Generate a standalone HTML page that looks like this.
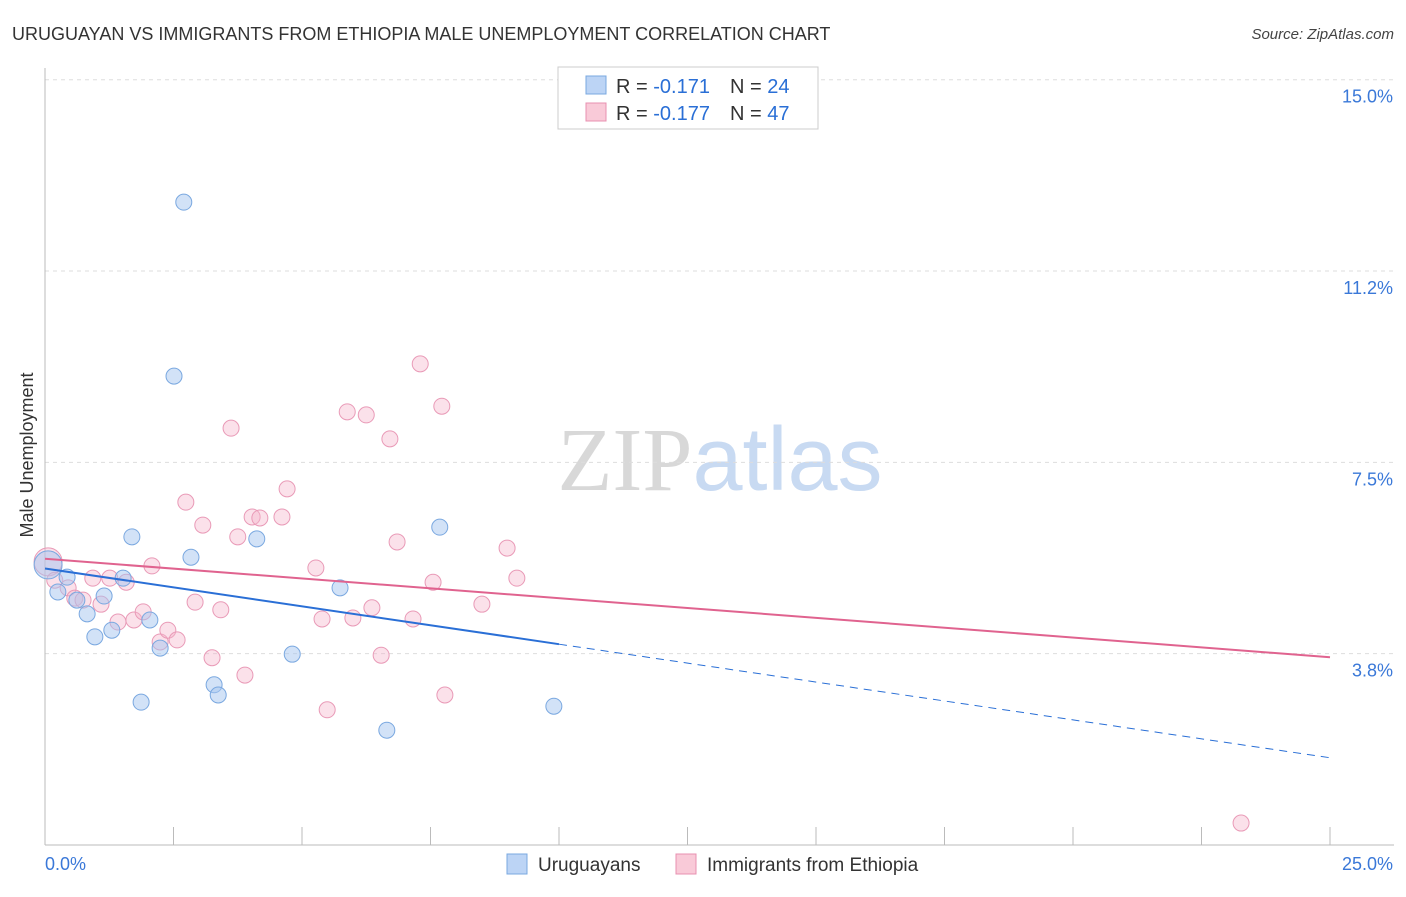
<!DOCTYPE html>
<html><head><meta charset="utf-8"><style>
body{margin:0;background:#fff;font-family:"Liberation Sans",sans-serif}
svg text{font-family:"Liberation Sans",sans-serif}
</style></head><body>
<svg id="chart" width="1406" height="892" xmlns="http://www.w3.org/2000/svg">
<text x="12" y="40" font-size="18" fill="#333">URUGUAYAN VS IMMIGRANTS FROM ETHIOPIA MALE UNEMPLOYMENT CORRELATION CHART</text>
<text x="1394" y="39" font-size="15" fill="#444" text-anchor="end" font-style="italic">Source: ZipAtlas.com</text>
<text x="720" y="490" font-size="90" text-anchor="middle"><tspan fill="#d8d8d8" font-family="Liberation Serif">ZIP</tspan><tspan fill="#c8daf2">atlas</tspan></text>
<g id="grid"></g>
<g id="axes"></g>
<g id="marks"></g>
<text transform="translate(33,455) rotate(-90)" font-size="18" fill="#333" text-anchor="middle">Male Unemployment</text>
<g>
<rect x="558" y="67" width="260" height="62" fill="#fff" stroke="#ccc"/>
<rect x="586" y="76" width="20" height="18" fill="#bcd4f5" stroke="#7aa8e0"/>
<text x="616" y="93" font-size="20" fill="#333">R = <tspan fill="#2a6fd6">-0.171</tspan></text>
<text x="730" y="93" font-size="20" fill="#333">N = <tspan fill="#2a6fd6">24</tspan></text>
<rect x="586" y="103" width="20" height="18" fill="#f9cad8" stroke="#e890b0"/>
<text x="616" y="120" font-size="20" fill="#333">R = <tspan fill="#2a6fd6">-0.177</tspan></text>
<text x="730" y="120" font-size="20" fill="#333">N = <tspan fill="#2a6fd6">47</tspan></text>
</g>
<g>
<rect x="507" y="854" width="20" height="20" fill="#bcd4f5" stroke="#7aa8e0"/>
<text x="538" y="871" font-size="19" fill="#333">Uruguayans</text>
<rect x="676" y="854" width="20" height="20" fill="#f9cad8" stroke="#e890b0"/>
<text x="707" y="871" font-size="19" fill="#333">Immigrants from Ethiopia</text>
</g>
</svg>
<script>
const blueX=[0.06,0.25,0.43,0.62,0.82,0.97,1.15,1.30,1.52,1.69,1.87,2.04,2.24,2.51,2.70,2.84,3.29,3.37,4.12,4.81,5.74,6.65,7.68,9.90];
const blueY=[5.49,4.96,5.25,4.80,4.53,4.08,4.88,4.21,5.23,6.04,2.80,4.41,3.86,9.19,12.60,5.64,3.14,2.94,6.00,3.74,5.04,2.25,6.23,2.72];
const pinkX=[0.06,0.19,0.45,0.58,0.74,0.93,1.09,1.26,1.42,1.58,1.73,1.91,2.08,2.24,2.39,2.57,2.74,2.92,3.07,3.25,3.42,3.62,3.75,3.89,4.03,4.18,4.61,4.71,5.27,5.39,5.49,5.88,5.99,6.25,6.36,6.54,6.71,6.85,7.16,7.30,7.55,7.72,7.78,8.50,8.99,9.18,23.27];
const pinkY=[5.55,5.19,5.04,4.84,4.80,5.23,4.72,5.23,4.37,5.15,4.41,4.57,5.47,3.98,4.21,4.02,6.72,4.76,6.27,3.67,4.61,8.17,6.04,3.33,6.43,6.41,6.43,6.98,5.43,4.43,2.65,8.49,4.45,8.43,4.65,3.72,7.96,5.94,4.43,9.43,5.15,8.60,2.94,4.72,5.82,5.23,0.43];
const yTicks=[3.8,7.5,11.2,15.0];
const yTickVals=[3.75,7.5,11.25,15];
const blueTrend=[5.42,1.71];
const pinkTrend=[5.61,3.68];
const NS="http://www.w3.org/2000/svg";
const X0=45,X1=1330,Y0=845,YS=51.02;
const sx=v=>X0+v/25*(X1-X0);
const sy=v=>Y0-v*YS;
function mk(parent,tag,attrs){const e=document.createElementNS(NS,tag);for(const k in attrs)e.setAttribute(k,attrs[k]);parent.appendChild(e);return e;}
const grid=document.getElementById('grid'),axes=document.getElementById('axes'),marks=document.getElementById('marks');
yTickVals.forEach((v,i)=>{
 const l=mk(grid,'line',{x1:X0,x2:1394,y1:sy(v),y2:sy(v),stroke:'#ddd','stroke-dasharray':'4,4'});
 
 
 const t=mk(axes,'text',{x:1393,y:sy(v)+23,'font-size':18,fill:'#3a78d8','text-anchor':'end'});
 t.textContent=yTicks[i].toFixed(1)+'%';
 
 
});
const ax=mk(axes,'line',{x1:X0,x2:1394,y1:Y0,y2:Y0,stroke:'#bbb'});


const ay=mk(axes,'line',{x1:X0,x2:X0,y1:68,y2:Y0,stroke:'#bbb'});


for(let i=0;i<=10;i++){
 const tk=mk(axes,'line',{x1:sx(i*2.5),x2:sx(i*2.5),y1:Y0,y2:Y0-18,stroke:'#bbb'});
 
 
}
const xl=mk(axes,'text',{x:45,y:870,'font-size':18,fill:'#3a78d8'});xl.textContent='0.0%';


const xr=mk(axes,'text',{x:1393,y:870,'font-size':18,fill:'#3a78d8','text-anchor':'end'});xr.textContent='25.0%';


function pts(xs,ys,fill,stroke,name){
 xs.forEach((x,i)=>{
  const c=mk(marks,'circle',{cx:sx(x),cy:sy(ys[i]),r:i===0?14:8,fill:fill,stroke:stroke,'stroke-width':1});
  
  
 });
}
pts(pinkX,pinkY,'rgba(246,180,202,0.4)','#e99ab7','point-ethiopia');
pts(blueX,blueY,'rgba(165,198,240,0.5)','#7aa8e0','point-uruguayan');
const bAt=x=>blueTrend[0]+(blueTrend[1]-blueTrend[0])*x/25;
const l1=mk(marks,'line',{x1:sx(0),y1:sy(bAt(0)),x2:sx(10),y2:sy(bAt(10)),stroke:'#2a6fd6','stroke-width':2});


const l2=mk(marks,'line',{x1:sx(10),y1:sy(bAt(10)),x2:sx(25),y2:sy(bAt(25)),stroke:'#2a6fd6','stroke-width':1,'stroke-dasharray':'8,6'});


const l3=mk(marks,'line',{x1:sx(0),y1:sy(pinkTrend[0]),x2:sx(25),y2:sy(pinkTrend[1]),stroke:'#e0638f','stroke-width':2});


</script>
</body></html>
